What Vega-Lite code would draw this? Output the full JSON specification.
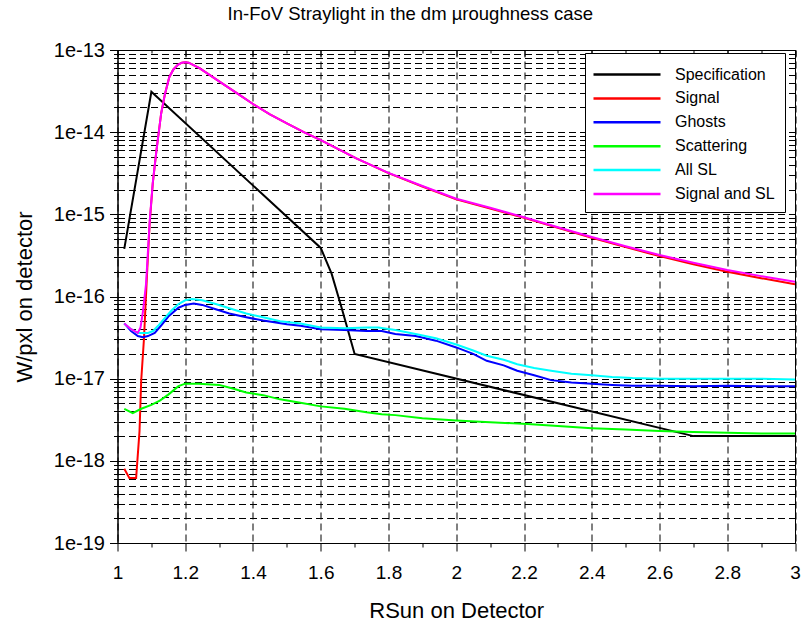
{
  "$schema": "https://vega.github.io/schema/vega-lite/v6.json",
  "width": 677.5,
  "height": 493,
  "autosize": "none",
  "padding": {"left": 117.5, "top": 50, "right": 8, "bottom": 78},
  "background": "white",
  "view": {"stroke": "black", "strokeWidth": 1},
  "title": {
    "text": "In-FoV Straylight in the dm µroughness case",
    "font": "Liberation Sans",
    "fontSize": 18.5,
    "fontWeight": "normal",
    "color": "black",
    "anchor": "middle",
    "frame": "group",
    "dx": -46,
    "baseline": "alphabetic",
    "offset": 2
  },
  "data": {
    "values": [
      {"series": "Specification", "x": 1.02, "y": 3.8e-16},
      {"series": "Specification", "x": 1.1, "y": 3.1e-14},
      {"series": "Specification", "x": 1.6, "y": 3.9e-16},
      {"series": "Specification", "x": 1.632, "y": 1.9e-16},
      {"series": "Specification", "x": 1.662, "y": 7.2e-17},
      {"series": "Specification", "x": 1.7, "y": 2.0e-17},
      {"series": "Specification", "x": 2.7, "y": 2.0e-18},
      {"series": "Specification", "x": 3.0, "y": 2.0e-18},

      {"series": "Signal", "x": 1.02, "y": 8e-19},
      {"series": "Signal", "x": 1.035, "y": 6.2e-19},
      {"series": "Signal", "x": 1.055, "y": 6.2e-19},
      {"series": "Signal", "x": 1.065, "y": 2.3e-18},
      {"series": "Signal", "x": 1.07, "y": 9.5e-18},
      {"series": "Signal", "x": 1.078, "y": 3e-17},
      {"series": "Signal", "x": 1.084, "y": 1e-16},
      {"series": "Signal", "x": 1.088, "y": 2.2e-16},
      {"series": "Signal", "x": 1.095, "y": 7.8e-16},
      {"series": "Signal", "x": 1.104, "y": 2.35e-15},
      {"series": "Signal", "x": 1.115, "y": 6e-15},
      {"series": "Signal", "x": 1.129, "y": 1.7e-14},
      {"series": "Signal", "x": 1.14, "y": 2.9e-14},
      {"series": "Signal", "x": 1.153, "y": 4.7e-14},
      {"series": "Signal", "x": 1.165, "y": 5.8e-14},
      {"series": "Signal", "x": 1.178, "y": 6.6e-14},
      {"series": "Signal", "x": 1.19, "y": 7e-14},
      {"series": "Signal", "x": 1.2, "y": 7.1e-14},
      {"series": "Signal", "x": 1.21, "y": 7e-14},
      {"series": "Signal", "x": 1.242, "y": 6e-14},
      {"series": "Signal", "x": 1.31, "y": 3.9e-14},
      {"series": "Signal", "x": 1.36, "y": 2.85e-14},
      {"series": "Signal", "x": 1.4, "y": 2.2e-14},
      {"series": "Signal", "x": 1.45, "y": 1.65e-14},
      {"series": "Signal", "x": 1.5, "y": 1.28e-14},
      {"series": "Signal", "x": 1.55, "y": 1.0e-14},
      {"series": "Signal", "x": 1.6, "y": 8e-15},
      {"series": "Signal", "x": 1.705, "y": 4.8e-15},
      {"series": "Signal", "x": 1.8, "y": 3.17e-15},
      {"series": "Signal", "x": 1.9, "y": 2.18e-15},
      {"series": "Signal", "x": 2.0, "y": 1.52e-15},
      {"series": "Signal", "x": 2.1, "y": 1.18e-15},
      {"series": "Signal", "x": 2.2, "y": 9.05e-16},
      {"series": "Signal", "x": 2.3, "y": 6.85e-16},
      {"series": "Signal", "x": 2.4, "y": 5.19e-16},
      {"series": "Signal", "x": 2.5, "y": 3.99e-16},
      {"series": "Signal", "x": 2.6, "y": 3.1e-16},
      {"series": "Signal", "x": 2.7, "y": 2.47e-16},
      {"series": "Signal", "x": 2.8, "y": 2.0e-16},
      {"series": "Signal", "x": 2.9, "y": 1.67e-16},
      {"series": "Signal", "x": 3.0, "y": 1.41e-16},

      {"series": "Ghosts", "x": 1.02, "y": 4.7e-17},
      {"series": "Ghosts", "x": 1.04, "y": 3.8e-17},
      {"series": "Ghosts", "x": 1.06, "y": 3.3e-17},
      {"series": "Ghosts", "x": 1.075, "y": 3.2e-17},
      {"series": "Ghosts", "x": 1.09, "y": 3.3e-17},
      {"series": "Ghosts", "x": 1.11, "y": 3.6e-17},
      {"series": "Ghosts", "x": 1.13, "y": 4.5e-17},
      {"series": "Ghosts", "x": 1.15, "y": 5.7e-17},
      {"series": "Ghosts", "x": 1.18, "y": 7.3e-17},
      {"series": "Ghosts", "x": 1.2, "y": 7.9e-17},
      {"series": "Ghosts", "x": 1.225, "y": 8.2e-17},
      {"series": "Ghosts", "x": 1.25, "y": 7.9e-17},
      {"series": "Ghosts", "x": 1.29, "y": 7.0e-17},
      {"series": "Ghosts", "x": 1.33, "y": 6.2e-17},
      {"series": "Ghosts", "x": 1.38, "y": 5.6e-17},
      {"series": "Ghosts", "x": 1.43, "y": 5.1e-17},
      {"series": "Ghosts", "x": 1.5, "y": 4.6e-17},
      {"series": "Ghosts", "x": 1.54, "y": 4.4e-17},
      {"series": "Ghosts", "x": 1.6, "y": 4.0e-17},
      {"series": "Ghosts", "x": 1.67, "y": 3.9e-17},
      {"series": "Ghosts", "x": 1.735, "y": 3.8e-17},
      {"series": "Ghosts", "x": 1.78, "y": 3.8e-17},
      {"series": "Ghosts", "x": 1.82, "y": 3.5e-17},
      {"series": "Ghosts", "x": 1.88, "y": 3.3e-17},
      {"series": "Ghosts", "x": 1.94, "y": 2.9e-17},
      {"series": "Ghosts", "x": 2.0, "y": 2.4e-17},
      {"series": "Ghosts", "x": 2.05, "y": 2.0e-17},
      {"series": "Ghosts", "x": 2.09, "y": 1.65e-17},
      {"series": "Ghosts", "x": 2.14, "y": 1.45e-17},
      {"series": "Ghosts", "x": 2.18, "y": 1.25e-17},
      {"series": "Ghosts", "x": 2.23, "y": 1.1e-17},
      {"series": "Ghosts", "x": 2.28, "y": 9.6e-18},
      {"series": "Ghosts", "x": 2.34, "y": 9.0e-18},
      {"series": "Ghosts", "x": 2.4, "y": 8.7e-18},
      {"series": "Ghosts", "x": 2.46, "y": 8.4e-18},
      {"series": "Ghosts", "x": 2.52, "y": 8.2e-18},
      {"series": "Ghosts", "x": 2.6, "y": 8.2e-18},
      {"series": "Ghosts", "x": 2.7, "y": 8.1e-18},
      {"series": "Ghosts", "x": 2.8, "y": 8.2e-18},
      {"series": "Ghosts", "x": 2.9, "y": 8.1e-18},
      {"series": "Ghosts", "x": 3.0, "y": 8.1e-18},

      {"series": "Scattering", "x": 1.02, "y": 4.3e-18},
      {"series": "Scattering", "x": 1.045, "y": 3.8e-18},
      {"series": "Scattering", "x": 1.07, "y": 4.3e-18},
      {"series": "Scattering", "x": 1.1, "y": 4.8e-18},
      {"series": "Scattering", "x": 1.125, "y": 5.4e-18},
      {"series": "Scattering", "x": 1.15, "y": 6.4e-18},
      {"series": "Scattering", "x": 1.18, "y": 8.1e-18},
      {"series": "Scattering", "x": 1.2, "y": 8.7e-18},
      {"series": "Scattering", "x": 1.24, "y": 8.7e-18},
      {"series": "Scattering", "x": 1.3, "y": 8.4e-18},
      {"series": "Scattering", "x": 1.34, "y": 7.6e-18},
      {"series": "Scattering", "x": 1.38, "y": 6.8e-18},
      {"series": "Scattering", "x": 1.43, "y": 6.3e-18},
      {"series": "Scattering", "x": 1.48, "y": 5.6e-18},
      {"series": "Scattering", "x": 1.54, "y": 5.1e-18},
      {"series": "Scattering", "x": 1.6, "y": 4.6e-18},
      {"series": "Scattering", "x": 1.67, "y": 4.3e-18},
      {"series": "Scattering", "x": 1.735, "y": 3.9e-18},
      {"series": "Scattering", "x": 1.78, "y": 3.7e-18},
      {"series": "Scattering", "x": 1.82, "y": 3.6e-18},
      {"series": "Scattering", "x": 1.9, "y": 3.3e-18},
      {"series": "Scattering", "x": 2.0, "y": 3.1e-18},
      {"series": "Scattering", "x": 2.1, "y": 2.95e-18},
      {"series": "Scattering", "x": 2.21, "y": 2.8e-18},
      {"series": "Scattering", "x": 2.3, "y": 2.65e-18},
      {"series": "Scattering", "x": 2.4, "y": 2.5e-18},
      {"series": "Scattering", "x": 2.5, "y": 2.4e-18},
      {"series": "Scattering", "x": 2.6, "y": 2.3e-18},
      {"series": "Scattering", "x": 2.7, "y": 2.25e-18},
      {"series": "Scattering", "x": 2.8, "y": 2.2e-18},
      {"series": "Scattering", "x": 2.9, "y": 2.15e-18},
      {"series": "Scattering", "x": 3.0, "y": 2.15e-18},

      {"series": "All SL", "x": 1.02, "y": 4.7e-17},
      {"series": "All SL", "x": 1.04, "y": 4.0e-17},
      {"series": "All SL", "x": 1.06, "y": 3.6e-17},
      {"series": "All SL", "x": 1.075, "y": 3.6e-17},
      {"series": "All SL", "x": 1.09, "y": 3.6e-17},
      {"series": "All SL", "x": 1.105, "y": 3.8e-17},
      {"series": "All SL", "x": 1.12, "y": 4.4e-17},
      {"series": "All SL", "x": 1.14, "y": 5.5e-17},
      {"series": "All SL", "x": 1.16, "y": 6.8e-17},
      {"series": "All SL", "x": 1.18, "y": 8.1e-17},
      {"series": "All SL", "x": 1.2, "y": 9.0e-17},
      {"series": "All SL", "x": 1.22, "y": 9.3e-17},
      {"series": "All SL", "x": 1.25, "y": 9.0e-17},
      {"series": "All SL", "x": 1.29, "y": 8.1e-17},
      {"series": "All SL", "x": 1.33, "y": 7.2e-17},
      {"series": "All SL", "x": 1.38, "y": 6.2e-17},
      {"series": "All SL", "x": 1.43, "y": 5.6e-17},
      {"series": "All SL", "x": 1.48, "y": 5.0e-17},
      {"series": "All SL", "x": 1.54, "y": 4.7e-17},
      {"series": "All SL", "x": 1.6, "y": 4.2e-17},
      {"series": "All SL", "x": 1.67, "y": 4.1e-17},
      {"series": "All SL", "x": 1.735, "y": 4.2e-17},
      {"series": "All SL", "x": 1.77, "y": 4.2e-17},
      {"series": "All SL", "x": 1.82, "y": 3.9e-17},
      {"series": "All SL", "x": 1.88, "y": 3.5e-17},
      {"series": "All SL", "x": 1.94, "y": 3.1e-17},
      {"series": "All SL", "x": 2.0, "y": 2.6e-17},
      {"series": "All SL", "x": 2.05, "y": 2.2e-17},
      {"series": "All SL", "x": 2.09, "y": 1.9e-17},
      {"series": "All SL", "x": 2.14, "y": 1.7e-17},
      {"series": "All SL", "x": 2.18, "y": 1.5e-17},
      {"series": "All SL", "x": 2.23, "y": 1.35e-17},
      {"series": "All SL", "x": 2.28, "y": 1.25e-17},
      {"series": "All SL", "x": 2.34, "y": 1.15e-17},
      {"series": "All SL", "x": 2.4, "y": 1.1e-17},
      {"series": "All SL", "x": 2.46, "y": 1.05e-17},
      {"series": "All SL", "x": 2.52, "y": 1.02e-17},
      {"series": "All SL", "x": 2.6, "y": 1.0e-17},
      {"series": "All SL", "x": 2.7, "y": 1.0e-17},
      {"series": "All SL", "x": 2.8, "y": 1.0e-17},
      {"series": "All SL", "x": 2.9, "y": 1.0e-17},
      {"series": "All SL", "x": 3.0, "y": 9.8e-18},

      {"series": "Signal and SL", "x": 1.02, "y": 4.7e-17},
      {"series": "Signal and SL", "x": 1.04, "y": 4.0e-17},
      {"series": "Signal and SL", "x": 1.06, "y": 3.6e-17},
      {"series": "Signal and SL", "x": 1.068, "y": 4.2e-17},
      {"series": "Signal and SL", "x": 1.075, "y": 6.5e-17},
      {"series": "Signal and SL", "x": 1.084, "y": 1.4e-16},
      {"series": "Signal and SL", "x": 1.088, "y": 2.6e-16},
      {"series": "Signal and SL", "x": 1.095, "y": 8.2e-16},
      {"series": "Signal and SL", "x": 1.104, "y": 2.4e-15},
      {"series": "Signal and SL", "x": 1.115, "y": 6e-15},
      {"series": "Signal and SL", "x": 1.129, "y": 1.7e-14},
      {"series": "Signal and SL", "x": 1.14, "y": 2.9e-14},
      {"series": "Signal and SL", "x": 1.153, "y": 4.7e-14},
      {"series": "Signal and SL", "x": 1.165, "y": 5.8e-14},
      {"series": "Signal and SL", "x": 1.178, "y": 6.6e-14},
      {"series": "Signal and SL", "x": 1.19, "y": 7e-14},
      {"series": "Signal and SL", "x": 1.2, "y": 7.1e-14},
      {"series": "Signal and SL", "x": 1.21, "y": 7e-14},
      {"series": "Signal and SL", "x": 1.242, "y": 6e-14},
      {"series": "Signal and SL", "x": 1.31, "y": 3.9e-14},
      {"series": "Signal and SL", "x": 1.36, "y": 2.85e-14},
      {"series": "Signal and SL", "x": 1.4, "y": 2.2e-14},
      {"series": "Signal and SL", "x": 1.45, "y": 1.65e-14},
      {"series": "Signal and SL", "x": 1.5, "y": 1.28e-14},
      {"series": "Signal and SL", "x": 1.55, "y": 1.0e-14},
      {"series": "Signal and SL", "x": 1.6, "y": 8e-15},
      {"series": "Signal and SL", "x": 1.705, "y": 4.8e-15},
      {"series": "Signal and SL", "x": 1.8, "y": 3.2e-15},
      {"series": "Signal and SL", "x": 1.9, "y": 2.21e-15},
      {"series": "Signal and SL", "x": 2.0, "y": 1.55e-15},
      {"series": "Signal and SL", "x": 2.1, "y": 1.2e-15},
      {"series": "Signal and SL", "x": 2.2, "y": 9.2e-16},
      {"series": "Signal and SL", "x": 2.3, "y": 6.97e-16},
      {"series": "Signal and SL", "x": 2.4, "y": 5.3e-16},
      {"series": "Signal and SL", "x": 2.5, "y": 4.09e-16},
      {"series": "Signal and SL", "x": 2.6, "y": 3.2e-16},
      {"series": "Signal and SL", "x": 2.7, "y": 2.57e-16},
      {"series": "Signal and SL", "x": 2.8, "y": 2.1e-16},
      {"series": "Signal and SL", "x": 2.9, "y": 1.77e-16},
      {"series": "Signal and SL", "x": 3.0, "y": 1.51e-16}
    ]
  },
  "resolve": {"axis": {"x": "independent", "y": "independent"}},
  "layer": [
    {
      "mark": {"type": "line", "strokeWidth": 2, "clip": true},
      "encoding": {
        "x": {
          "field": "x",
          "type": "quantitative",
          "scale": {"domain": [1, 3], "nice": false, "zero": false},
          "axis": {
            "orient": "bottom",
            "values": [1, 1.1, 1.2, 1.3, 1.4, 1.5, 1.6, 1.7, 1.8, 1.9, 2, 2.1, 2.2, 2.3, 2.4, 2.5, 2.6, 2.7, 2.8, 2.9, 3],
            "labelExpr": "abs(datum.value*5 - round(datum.value*5)) < 0.01 ? format(datum.value, '~g') : ''",
            "grid": true,
            "gridColor": "black",
            "gridDash": [7, 4],
            "gridWidth": 1,
            "gridOpacity": {"condition": {"test": "abs(datum.value*5 - round(datum.value*5)) < 0.01", "value": 1}, "value": 0},
            "tickSize": {"condition": {"test": "abs(datum.value*5 - round(datum.value*5)) < 0.01", "value": 8}, "value": 4},
            "tickColor": "black",
            "domainColor": "black",
            "labelFont": "Liberation Sans",
            "labelFontSize": 19,
            "labelColor": "black",
            "labelPadding": 12,
            "labelFlush": false,
            "labelOverlap": false,
            "title": "RSun on Detector",
            "titleFont": "Liberation Sans",
            "titleFontSize": 22,
            "titleFontWeight": "normal",
            "titleColor": "black",
            "titleBaseline": "alphabetic",
            "titleX": 338.75,
            "titleY": 74
          }
        },
        "y": {
          "field": "y",
          "type": "quantitative",
          "scale": {"type": "log", "domain": [1e-19, 1e-13], "nice": false},
          "axis": {
            "orient": "left",
            "values": [1e-19, 2e-19, 3e-19, 4e-19, 5e-19, 6e-19, 7e-19, 8e-19, 9e-19, 1e-18, 2e-18, 3e-18, 4e-18, 5e-18, 6e-18, 7e-18, 8e-18, 9e-18, 1e-17, 2e-17, 3e-17, 4e-17, 5e-17, 6e-17, 7e-17, 8e-17, 9e-17, 1e-16, 2e-16, 3e-16, 4e-16, 5e-16, 6e-16, 7e-16, 8e-16, 9e-16, 1e-15, 2e-15, 3e-15, 4e-15, 5e-15, 6e-15, 7e-15, 8e-15, 9e-15, 1e-14, 2e-14, 3e-14, 4e-14, 5e-14, 6e-14, 7e-14, 8e-14, 9e-14, 1e-13],
            "labelExpr": "abs(log(datum.value)/LN10 - round(log(datum.value)/LN10)) < 0.01 ? '1e' + round(log(datum.value)/LN10) : ''",
            "grid": true,
            "gridColor": "black",
            "gridDash": [7, 4],
            "gridWidth": 1,
            "gridOpacity": 1,
            "tickSize": {"condition": {"test": "abs(log(datum.value)/LN10 - round(log(datum.value)/LN10)) < 0.01", "value": 8}, "value": 4},
            "tickColor": "black",
            "domainColor": "black",
            "labelFont": "Liberation Sans",
            "labelFontSize": 20,
            "labelColor": "black",
            "labelPadding": 5,
            "labelFlush": false,
            "labelOverlap": false,
            "title": "W/pxl on detector",
            "titleFont": "Liberation Sans",
            "titleFontSize": 22,
            "titleFontWeight": "normal",
            "titleColor": "black",
            "titleBaseline": "alphabetic",
            "titleAngle": 270,
            "titleX": -86,
            "titleY": 246.5
          }
        },
        "color": {
          "field": "series",
          "type": "nominal",
          "sort": null,
          "scale": {
            "domain": ["Specification", "Signal", "Ghosts", "Scattering", "All SL", "Signal and SL"],
            "range": ["#000000", "#ff0000", "#0000ff", "#00ff00", "#00ffff", "#ff00ff"]
          },
          "legend": {
            "orient": "none",
            "legendX": 467.5,
            "legendY": 3,
            "title": null,
            "strokeColor": "black",
            "fillColor": "white",
            "padding": 10,
            "symbolType": "M-3.35,0H3.35",
            "symbolSize": 400,
            "symbolStrokeWidth": 2.5,
            "symbolOffset": 20.5,
            "labelOffset": 36.5,
            "labelFont": "Liberation Sans",
            "labelFontSize": 16,
            "labelColor": "black",
            "rowPadding": 3.9
          }
        }
      }
    },
    {
      "mark": {"type": "line", "strokeOpacity": 0},
      "encoding": {
        "x": {
          "field": "x",
          "type": "quantitative",
          "axis": {
            "orient": "top",
            "values": [1, 1.1, 1.2, 1.3, 1.4, 1.5, 1.6, 1.7, 1.8, 1.9, 2, 2.1, 2.2, 2.3, 2.4, 2.5, 2.6, 2.7, 2.8, 2.9, 3],
            "labels": false,
            "grid": false,
            "title": null,
            "domainColor": "black",
            "tickColor": "black",
            "tickSize": {"condition": {"test": "abs(datum.value*5 - round(datum.value*5)) < 0.01", "value": -6}, "value": -3}
          }
        },
        "y": {
          "field": "y",
          "type": "quantitative",
          "axis": {
            "orient": "right",
            "values": [1e-19, 2e-19, 3e-19, 4e-19, 5e-19, 6e-19, 7e-19, 8e-19, 9e-19, 1e-18, 2e-18, 3e-18, 4e-18, 5e-18, 6e-18, 7e-18, 8e-18, 9e-18, 1e-17, 2e-17, 3e-17, 4e-17, 5e-17, 6e-17, 7e-17, 8e-17, 9e-17, 1e-16, 2e-16, 3e-16, 4e-16, 5e-16, 6e-16, 7e-16, 8e-16, 9e-16, 1e-15, 2e-15, 3e-15, 4e-15, 5e-15, 6e-15, 7e-15, 8e-15, 9e-15, 1e-14, 2e-14, 3e-14, 4e-14, 5e-14, 6e-14, 7e-14, 8e-14, 9e-14, 1e-13],
            "labels": false,
            "grid": false,
            "title": null,
            "domainColor": "black",
            "tickColor": "black",
            "tickSize": {"condition": {"test": "abs(log(datum.value)/LN10 - round(log(datum.value)/LN10)) < 0.01", "value": -6}, "value": -3}
          }
        }
      }
    }
  ]
}
